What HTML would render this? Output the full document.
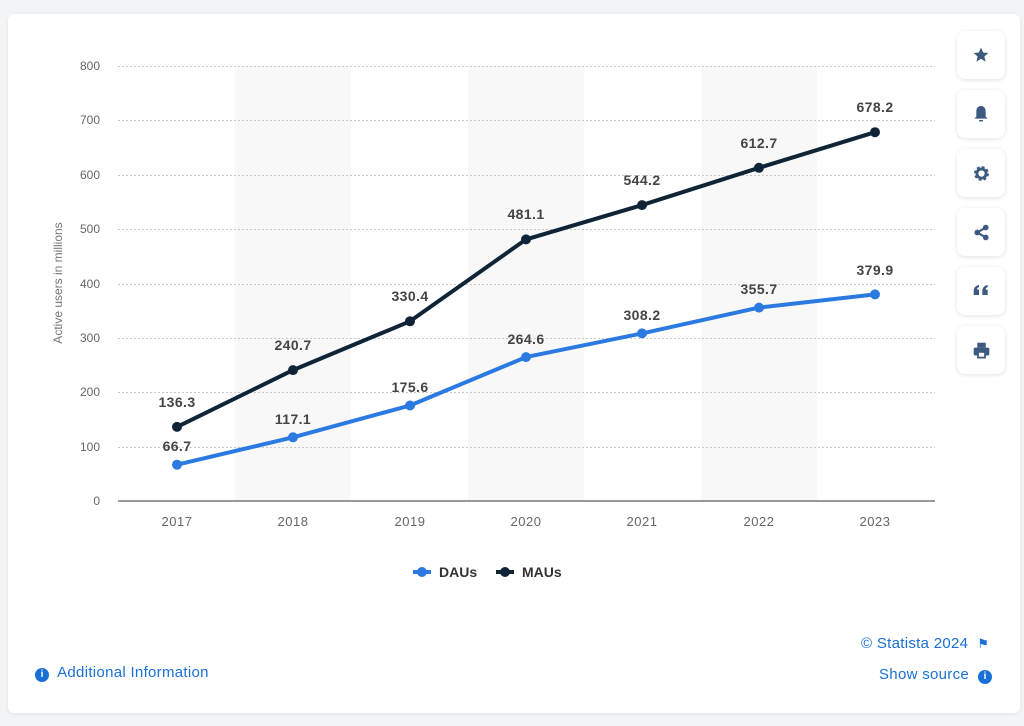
<!DOCTYPE html>
<html><head><meta charset="utf-8"><style>
body{margin:0;width:1024px;height:726px;background:#f3f4f6;font-family:"Liberation Sans",sans-serif;overflow:hidden;position:relative}
.card{position:absolute;left:8px;top:14px;width:1012px;height:699px;background:#fff;border-radius:6px;box-shadow:0 1px 4px rgba(0,0,0,.08)}
.btn{position:absolute;left:957px;width:48px;height:48px;background:#fff;border-radius:8px;box-shadow:0 1px 5px rgba(0,0,0,.12);display:flex;align-items:center;justify-content:center}
.lnk{position:absolute;color:#1a6fd6;font-size:15px;letter-spacing:0.3px;white-space:nowrap}
.ic{display:inline-block;width:14px;height:14px;border-radius:50%;background:#1a6fd6;color:#fff;font-size:10px;font-weight:bold;text-align:center;line-height:14px;vertical-align:0px;letter-spacing:0}
</style></head><body>
<div class="card"></div>
<svg style="position:absolute;left:0;top:0" width="1024" height="726" font-family="Liberation Sans, sans-serif">
<g fill="#f8f8f9"><rect x="235" y="66" width="116" height="435"/><rect x="468" y="66" width="116" height="435"/><rect x="701" y="66" width="116" height="435"/></g>
<g stroke="#c8c8c8" stroke-dasharray="2,2" stroke-width="1">
<line x1="118" x2="935" y1="66.5" y2="66.5"/><line x1="118" x2="935" y1="120.5" y2="120.5"/><line x1="118" x2="935" y1="175.5" y2="175.5"/><line x1="118" x2="935" y1="229.5" y2="229.5"/><line x1="118" x2="935" y1="284.5" y2="284.5"/><line x1="118" x2="935" y1="338.5" y2="338.5"/><line x1="118" x2="935" y1="392.5" y2="392.5"/><line x1="118" x2="935" y1="447.5" y2="447.5"/></g>
<line x1="118" x2="935" y1="501" y2="501" stroke="#333" stroke-width="1"/>
<g font-size="12" fill="#666" text-anchor="end">
<text x="100" y="70">800</text><text x="100" y="124">700</text><text x="100" y="179">600</text><text x="100" y="233">500</text><text x="100" y="288">400</text><text x="100" y="342">300</text><text x="100" y="396">200</text><text x="100" y="451">100</text><text x="100" y="505">0</text></g>
<g font-size="13" fill="#666" text-anchor="middle" letter-spacing="0.5">
<text x="177" y="526">2017</text><text x="293" y="526">2018</text><text x="410" y="526">2019</text><text x="526" y="526">2020</text><text x="642" y="526">2021</text><text x="759" y="526">2022</text><text x="875" y="526">2023</text></g>
<text transform="translate(62,283) rotate(-90)" font-size="12" fill="#777" text-anchor="middle">Active users in millions</text>
<polyline fill="none" stroke="#2a7ae2" stroke-width="4" stroke-linejoin="round" points="177,464.7 293,437.3 410,405.5 526,357.1 642,333.4 759,307.6 875,294.4"/>
<polyline fill="none" stroke="#0f2537" stroke-width="4" stroke-linejoin="round" points="177,426.9 293,370.1 410,321.3 526,239.4 642,205.1 759,167.8 875,132.2"/>
<g fill="#2a7ae2"><circle cx="177" cy="464.7" r="5"/><circle cx="293" cy="437.3" r="5"/><circle cx="410" cy="405.5" r="5"/><circle cx="526" cy="357.1" r="5"/><circle cx="642" cy="333.4" r="5"/><circle cx="759" cy="307.6" r="5"/><circle cx="875" cy="294.4" r="5"/></g>
<g fill="#0f2537"><circle cx="177" cy="426.9" r="5"/><circle cx="293" cy="370.1" r="5"/><circle cx="410" cy="321.3" r="5"/><circle cx="526" cy="239.4" r="5"/><circle cx="642" cy="205.1" r="5"/><circle cx="759" cy="167.8" r="5"/><circle cx="875" cy="132.2" r="5"/></g>
<g font-size="14" font-weight="bold" fill="#444" text-anchor="middle" letter-spacing="0.4">
<text x="177" y="451">66.7</text><text x="293" y="424">117.1</text><text x="410" y="392">175.6</text><text x="526" y="344">264.6</text><text x="642" y="320">308.2</text><text x="759" y="294">355.7</text><text x="875" y="275">379.9</text>
<text x="177" y="407">136.3</text><text x="293" y="350">240.7</text><text x="410" y="301">330.4</text><text x="526" y="219">481.1</text><text x="642" y="185">544.2</text><text x="759" y="148">612.7</text><text x="875" y="112">678.2</text></g>
<g font-size="14" font-weight="bold" fill="#333">
<line x1="413" x2="431" y1="572" y2="572" stroke="#2a7ae2" stroke-width="4"/><circle cx="422" cy="572" r="5" fill="#2a7ae2"/><text x="439" y="577">DAUs</text>
<line x1="496" x2="514" y1="572" y2="572" stroke="#0f2537" stroke-width="4"/><circle cx="505" cy="572" r="5" fill="#0f2537"/><text x="522" y="577">MAUs</text></g>
</svg>
<div class="btn" style="top:31px"><svg width="16" height="16" viewBox="0 0 24 24"><path fill="#3d5a80" d="M12 1l3.2 7.3 7.8.7-5.9 5.2 1.8 7.8L12 17.9 5.1 22l1.8-7.8L1 9l7.8-.7z"/></svg></div>
<div class="btn" style="top:90px"><svg width="16" height="18" viewBox="0 0 24 26"><path fill="#3d5a80" d="M12 1c5 0 7 4 7 8v8l3 3H2l3-3V9c0-4 2-8 7-8zM9 22h6v2H9z"/></svg></div>
<div class="btn" style="top:149px"><svg width="17" height="17" viewBox="0 0 24 24"><circle cx="12" cy="12" r="8" fill="none" stroke="#3d5a80" stroke-width="5" stroke-dasharray="3.5,2.8"/><circle cx="12" cy="12" r="6.5" fill="none" stroke="#3d5a80" stroke-width="4"/></svg></div>
<div class="btn" style="top:208px"><svg width="17" height="17" viewBox="0 0 24 24"><g fill="#3d5a80"><circle cx="18" cy="5" r="4"/><circle cx="6" cy="12" r="4"/><circle cx="18" cy="19" r="4"/></g><path d="M18 5L6 12l12 7" stroke="#3d5a80" stroke-width="3" fill="none"/></svg></div>
<div class="btn" style="top:267px"><svg width="16" height="14" viewBox="0 0 24 20"><g fill="#3d5a80"><path d="M1 10c0-5 3-8 8-9v3c-2 1-3 2-3 4h3v8H1z"/><path d="M14 10c0-5 3-8 8-9v3c-2 1-3 2-3 4h3v8h-8z"/></g></svg></div>
<div class="btn" style="top:326px"><svg width="17" height="17" viewBox="0 0 24 24"><g fill="#3d5a80"><rect x="6" y="1" width="12" height="7"/><rect x="1" y="8" width="22" height="11" rx="2"/></g><rect x="7" y="14" width="10" height="8" fill="#fff" stroke="#3d5a80" stroke-width="2.5"/></svg></div>
<div class="lnk" style="left:35px;top:664px"><span class="ic">i</span>&nbsp; Additional Information</div>
<div class="lnk" style="left:861px;top:635px">© Statista 2024 &nbsp;<span style="font-size:13px">⚑</span></div>
<div class="lnk" style="left:879px;top:666px">Show source &nbsp;<span class="ic">i</span></div>
</body></html>
